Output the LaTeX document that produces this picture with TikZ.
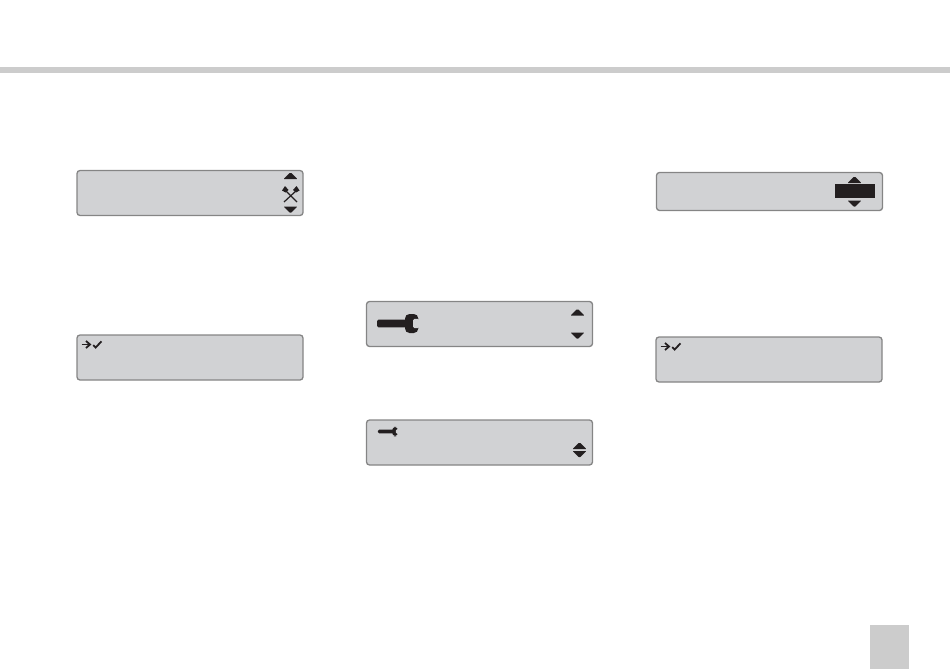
\documentclass[tikz,border=0pt]{standalone}
\definecolor{lcdgray}{HTML}{D1D2D4}
\definecolor{lcdedge}{HTML}{858585}
\definecolor{bandgray}{HTML}{CCCCCC}
\definecolor{symbol}{HTML}{231F20}
\tikzset{
  lcd/.style={draw=lcdedge,fill=lcdgray,line width=1.3pt,rounded corners=3pt,
    minimum width=226pt,inner sep=0pt,outer sep=0pt},
  bar/.style={fill=bandgray,inner sep=0pt,outer sep=0pt},
  scroll up/.pic={\fill[symbol,rounded corners=.5pt] (-6.8,3)--(-1,-3)--(1,-3)--(6.8,3)--cycle;},
  scroll down/.pic={\fill[symbol,rounded corners=.5pt] (-6.8,-3)--(-1,3)--(1,3)--(6.8,-3)--cycle;},
  spanner/.pic={
    \fill[symbol,rounded corners=1.5pt] (-34.5,-3.8) rectangle (-2,3.8);
    \fill[symbol,rounded corners=4.5pt] (-6.5,-9.5) rectangle (6.8,9.5);
    \fill[lcdgray,rounded corners=1.5pt] (1.5,-4.6) rectangle (8,4.6);},
  tick mark/.pic={
    \draw[symbol,line width=1.7pt] (-10,0)--(-2,0);
    \draw[symbol,line width=1.8pt] (-5.5,-3.5)--(-1.5,0)--(-5.5,3.5);
    \draw[symbol,line width=1.8pt] (1.8,.6)--(4.2,3)--(10,-3.2);},
}
\begin{document}
\begin{tikzpicture}[x=1pt,y=-1pt]
\useasboundingbox (0,0) rectangle (950,669);
\node[bar,minimum width=950pt,minimum height=6pt](band) at (475,70){};
\node[bar,minimum width=39pt,minimum height=44pt](tab) at (889.5,647){};
% left column
\node[lcd,minimum height=45pt](mine) at (190,193){};
\node[lcd,minimum height=45pt](confirmA) at (190,357.5){};
% middle column
\node[lcd,minimum height=45pt](service) at (479.5,324){};
\node[lcd,minimum height=45pt](serviceB) at (479.5,442.5){};
% right column
\node[lcd,minimum height=38pt](select) at (769.5,191.5){};
\node[lcd,minimum height=45pt](confirmB) at (769,359.5){};
% symbols
\pic at (290.5,176){scroll up};
\pic at (290.5,209.5){scroll down};
\draw[symbol,line width=1.2pt] (285,190)--(297,202);
\draw[symbol,line width=1.2pt] (297,190)--(284,202);
\fill[symbol] (282,190.5)--(285,186)--(288.5,190)--(285.5,192.5)--cycle;
\fill[symbol] (299.5,190.5)--(296.5,186)--(293,190)--(296,192.5)--cycle;
\pic at (91.5,344.5){tick mark};
\fill[symbol] (835,184) rectangle (875,198);
\pic at (854.5,180){scroll up};
\pic at (854.5,203.5){scroll down};
\pic at (670.5,346.5){tick mark};
\pic at (411.5,323.5){spanner};
\pic at (577.5,312.5){scroll up};
\pic at (577.5,335.5){scroll down};
\pic[scale=.5] at (395,431.5){spanner};
\pic at (579.5,446){scroll up};
\pic at (579.5,454){scroll down};
\end{tikzpicture}
\end{document}
